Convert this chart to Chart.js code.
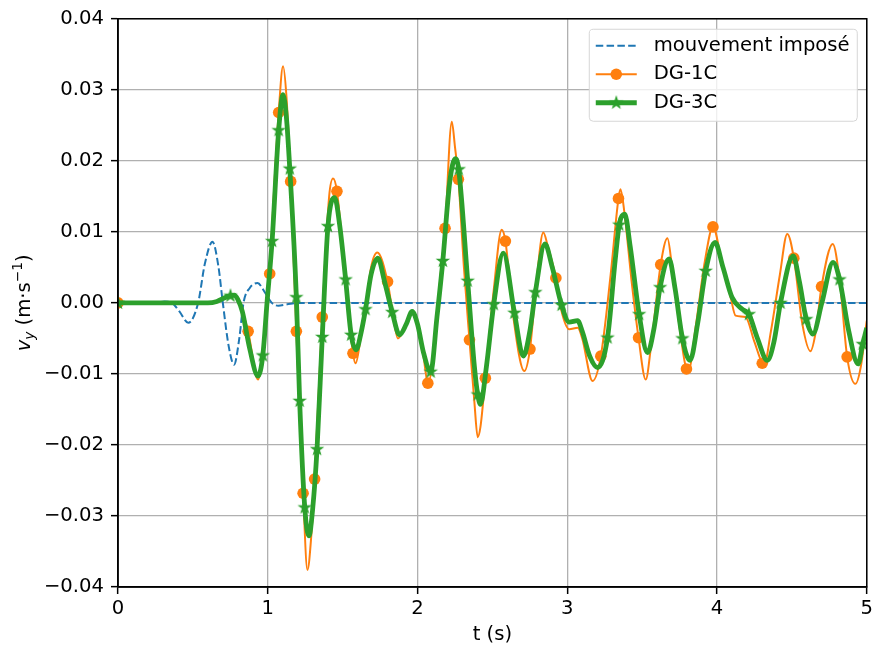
<!DOCTYPE html>
<html>
<head>
<meta charset="utf-8">
<title>v_y</title>
<script src="https://cdn.jsdelivr.net/npm/chart.js@4.4.1/dist/chart.umd.min.js"></script>
<style>
  body { margin: 0; background: #fff; }
  canvas { display: block; }
</style>
</head>
<body>
<canvas id="chart" width="876" height="650"></canvas>
<script>
// t (s) et v_y (m/s)
const imposeT = [0, 0.25, 0.31, 0.36, 0.41, 0.469, 0.535, 0.58, 0.631, 0.67, 0.70, 0.74, 0.775, 0.81, 0.838, 0.88, 0.932, 0.98, 1.027, 1.07, 1.13, 1.2, 5];
const imposeV = [0, 0, 0.0002, 0, -0.0012, -0.0028, 0, 0.0055, 0.0086, 0.0052, 0, -0.0062, -0.0087, -0.005, 0, 0.0021, 0.0028, 0.0015, 0, -0.0004, -0.0002, 0, 0];

const dg1T = [0, 0.6, 0.66, 0.72, 0.77, 0.8, 0.83, 0.869, 0.935, 0.967,
  1.013, 1.04, 1.073, 1.102, 1.125, 1.153, 1.191, 1.236, 1.265, 1.29,
  1.313, 1.364, 1.41, 1.436, 1.462, 1.52, 1.569, 1.587, 1.62, 1.653,
  1.69, 1.731, 1.8, 1.831, 1.869, 1.925, 1.964, 2.0, 2.04, 2.069,
  2.11, 2.15, 2.184, 2.229, 2.25, 2.273, 2.31, 2.347, 2.38, 2.402,
  2.42, 2.453, 2.51, 2.562, 2.587, 2.64, 2.713, 2.751, 2.79, 2.84,
  2.87, 2.924, 2.96, 3.013, 3.07, 3.1, 3.169, 3.224, 3.29, 3.342,
  3.355, 3.38, 3.43, 3.476, 3.524, 3.56, 3.624, 3.669, 3.7, 3.76,
  3.796, 3.81, 3.86, 3.92, 3.973, 4.03, 4.091, 4.124, 4.19, 4.25,
  4.302, 4.315, 4.36, 4.42, 4.469, 4.513, 4.57, 4.624, 4.66, 4.698,
  4.773, 4.82, 4.869, 4.924, 4.96, 5.0];
const dg1V = [0, 0, 0.0002, 0.0008, 0.0011, 0.0005, -0.0012, -0.004, -0.0108, -0.0074,
  0.0041, 0.015, 0.0268, 0.0333, 0.029, 0.0171, -0.004, -0.0268, -0.0376, -0.033,
  -0.0248, -0.002, 0.015, 0.0175, 0.0157, 0.003, -0.0071, -0.0085, -0.005, -0.0009,
  0.005, 0.0071, 0.003, -0.001, -0.005, -0.003, -0.0015, -0.003, -0.0075, -0.0113,
  -0.007, 0.003, 0.0105, 0.0255, 0.022, 0.0174, 0.005, -0.0052, -0.014, -0.0189,
  -0.0175, -0.0106, 0.002, 0.0103, 0.0087, -0.002, -0.0096, -0.0065, 0.002, 0.0099,
  0.008, 0.0035, -0.001, -0.0037, -0.0035, -0.005, -0.011, -0.0075, 0.004, 0.0147,
  0.016, 0.013, 0.003, -0.0049, -0.0108, -0.006, 0.0054, 0.0091, 0.005, -0.005,
  -0.0093, -0.0095, -0.003, 0.006, 0.0107, 0.006, 0.0008, -0.0018, -0.002, -0.0055,
  -0.0085, -0.0087, -0.004, 0.004, 0.0097, 0.0063, -0.003, -0.0068, -0.004, 0.0023,
  0.0083, 0.003, -0.0076, -0.0114, -0.009, -0.0025];
const dg1MarkT = [0, 0.869, 1.013, 1.073, 1.153, 1.191, 1.236, 1.313, 1.364, 1.462,
  1.569, 1.8, 2.069, 2.184, 2.273, 2.347, 2.453, 2.587, 2.751, 2.924,
  3.224, 3.342, 3.476, 3.624, 3.796, 3.973, 4.302, 4.513, 4.698, 4.869];
const dg1MarkV = [0, -0.004, 0.0041, 0.0268, 0.0171, -0.004, -0.0268, -0.0248, -0.002, 0.0157,
  -0.0071, 0.003, -0.0113, 0.0105, 0.0174, -0.0052, -0.0106, 0.0087, -0.0065, 0.0035,
  -0.0075, 0.0147, -0.0049, 0.0054, -0.0093, 0.0107, -0.0085, 0.0063, 0.0023, -0.0076];

const dg3T = [0, 0.6, 0.66, 0.72, 0.751, 0.775, 0.8, 0.83, 0.88, 0.935,
  0.967, 0.995, 1.029, 1.073, 1.102, 1.125, 1.147, 1.191, 1.213, 1.247,
  1.275, 1.3, 1.329, 1.364, 1.402, 1.447, 1.48, 1.52, 1.557, 1.591,
  1.62, 1.653, 1.69, 1.735, 1.78, 1.831, 1.88, 1.925, 1.964, 2.0,
  2.04, 2.088, 2.13, 2.169, 2.215, 2.253, 2.275, 2.335, 2.38, 2.402,
  2.42, 2.46, 2.509, 2.573, 2.647, 2.707, 2.75, 2.787, 2.851, 2.9,
  2.962, 3.013, 3.069, 3.1, 3.15, 3.202, 3.269, 3.32, 3.347, 3.384,
  3.42, 3.48, 3.536, 3.58, 3.62, 3.68, 3.72, 3.769, 3.82, 3.87,
  3.924, 3.987, 4.04, 4.1, 4.169, 4.213, 4.27, 4.336, 4.38, 4.424,
  4.509, 4.55, 4.596, 4.64, 4.7, 4.775, 4.818, 4.88, 4.942, 4.973, 5.0];
const dg3V = [0, 0, 0.0002, 0.0008, 0.001, 0.0011, 0.0005, -0.0012, -0.0065, -0.0103,
  -0.0074, 0, 0.0087, 0.0243, 0.0293, 0.026, 0.0189, 0.0008, -0.0138, -0.0288,
  -0.0328, -0.029, -0.0206, -0.0048, 0.0108, 0.0148, 0.011, 0.0033, -0.0045, -0.0066,
  -0.0045, -0.0009, 0.004, 0.0063, 0.003, -0.0013, -0.0045, -0.003, -0.0012, -0.003,
  -0.007, -0.0097, -0.002, 0.0059, 0.017, 0.0203, 0.0188, 0.0031, -0.009, -0.0129,
  -0.0143, -0.009, -0.0002, 0.007, -0.0014, -0.0075, -0.004, 0.0015, 0.0083, 0.005,
  -0.0003, -0.0027, -0.0025, -0.004, -0.0075, -0.0091, -0.0049, 0.006, 0.011, 0.0125,
  0.008, -0.0016, -0.007, -0.0035, 0.0022, 0.0062, 0.002, -0.005, -0.0081, -0.003,
  0.0045, 0.0085, 0.005, 0.0008, -0.0009, -0.0016, -0.005, -0.0081, -0.0055, 0,
  0.0066, 0.003, -0.0023, -0.0044, 0, 0.0057, 0.0033, -0.004, -0.0086, -0.0058, -0.0035];
const dg3MarkT = [0, 0.751, 0.967, 1.029, 1.073, 1.147, 1.191, 1.213, 1.247, 1.329, 1.364,
  1.402, 1.52, 1.557, 1.653, 1.831, 2.088, 2.169, 2.275, 2.335, 2.402,
  2.509, 2.647, 2.787, 2.962, 3.269, 3.347, 3.48, 3.62, 3.769, 3.924,
  4.213, 4.424, 4.596, 4.818, 4.973];
const dg3MarkV = [0, 0.001, -0.0074, 0.0087, 0.0243, 0.0189, 0.0008, -0.0138, -0.0288, -0.0206, -0.0048,
  0.0108, 0.0033, -0.0045, -0.0009, -0.0013, -0.0097, 0.0059, 0.0188, 0.0031, -0.0129,
  -0.0002, -0.0014, 0.0015, -0.0003, -0.0049, 0.011, -0.0016, 0.0022, -0.005, 0.0045,
  -0.0016, 0, -0.0023, 0.0033, -0.0058];

const xTicks = [0, 1, 2, 3, 4, 5];
const yTicks = [-0.04, -0.03, -0.02, -0.01, 0, 0.01, 0.02, 0.03, 0.04];
const labels = ['mouvement imposé', 'DG-1C', 'DG-3C'];

const BLUE = '#1f77b4', ORANGE = '#ff7f0e', GREEN = '#2ca02c';
const FONT = '"DejaVu Sans", sans-serif';
const FS = 19.6;

const pts = (ts, vs) => ts.map((t, i) => ({ x: t, y: vs[i] }));

function makeStar(r, color) {
  const size = Math.ceil(2 * r + 4);
  const c = document.createElement('canvas');
  c.width = size; c.height = size;
  const g = c.getContext('2d');
  g.translate(size / 2, size / 2);
  g.beginPath();
  for (let i = 0; i < 10; i++) {
    const rr = i % 2 ? r * 0.40 : r;
    const a = -Math.PI / 2 + i * Math.PI / 5;
    g.lineTo(rr * Math.cos(a), rr * Math.sin(a));
  }
  g.closePath();
  g.fillStyle = color; g.fill();
  g.lineWidth = 1.2; g.strokeStyle = color; g.stroke();
  return c;
}
const starImg = makeStar(5.8, GREEN);

// cadre complet (haut + droite)
const spines = {
  id: 'spines',
  afterDatasetsDraw(chart) {
    const { ctx, chartArea: a } = chart;
    ctx.save();
    ctx.strokeStyle = '#000';
    ctx.lineWidth = 1.5;
    ctx.strokeRect(a.left, a.top, a.right - a.left, a.bottom - a.top);
    ctx.restore();
  }
};

// titre de l'axe y avec indice / exposant
const yTitle = {
  id: 'yTitle',
  afterDraw(chart) {
    const ctx = chart.ctx;
    const a = chart.chartArea;
    const small = (FS * 0.7).toFixed(1) + 'px ';
    const parts = [
      { t: 'v', f: 'italic ' + FS + 'px ' + FONT, dy: 0 },
      { t: 'y', f: 'italic ' + small + FONT, dy: 4 },
      { t: ' (m\u00b7s', f: FS + 'px ' + FONT, dy: 0 },
      { t: '\u22121', f: small + FONT, dy: -8 },
      { t: ')', f: FS + 'px ' + FONT, dy: 0 }
    ];
    ctx.save();
    let w = 0;
    parts.forEach(p => { ctx.font = p.f; p.w = ctx.measureText(p.t).width; w += p.w; });
    ctx.translate(30, (a.top + a.bottom) / 2);
    ctx.rotate(-Math.PI / 2);
    ctx.fillStyle = '#000';
    ctx.textBaseline = 'alphabetic';
    let x = -w / 2;
    parts.forEach(p => { ctx.font = p.f; ctx.fillText(p.t, x, p.dy); x += p.w; });
    ctx.restore();
  }
};

// légende façon matplotlib, dans la zone du graphe
const legendBox = {
  id: 'legendBox',
  afterDraw(chart) {
    const ctx = chart.ctx;
    const a = chart.chartArea;
    const x0 = a.right - 278, y0 = a.top + 10, w = 268, h = 92;
    ctx.save();
    ctx.beginPath();
    ctx.roundRect(x0 + 0.5, y0 + 0.5, w, h, 4);
    ctx.fillStyle = 'rgba(255,255,255,0.8)';
    ctx.fill();
    ctx.strokeStyle = '#d6d6d6';
    ctx.lineWidth = 1;
    ctx.stroke();
    const rows = [
      { color: BLUE, width: 2, dash: [7.5, 3.3], marker: null },
      { color: ORANGE, width: 2, dash: [], marker: 'circle' },
      { color: GREEN, width: 4.8, dash: [], marker: 'star' }
    ];
    rows.forEach((r, i) => {
      const y = y0 + 17 + i * 28.5;
      const hx = x0 + 7;
      ctx.beginPath();
      ctx.setLineDash(r.dash);
      ctx.strokeStyle = r.color;
      ctx.lineWidth = r.width;
      ctx.moveTo(hx, y);
      ctx.lineTo(hx + 41, y);
      ctx.stroke();
      ctx.setLineDash([]);
      if (r.marker === 'circle') {
        ctx.beginPath();
        ctx.arc(hx + 20.5, y, 5.8, 0, Math.PI * 2);
        ctx.fillStyle = r.color;
        ctx.fill();
      } else if (r.marker === 'star') {
        ctx.drawImage(starImg, hx + 20.5 - starImg.width / 2, y - starImg.height / 2);
      }
      ctx.fillStyle = '#000';
      ctx.font = FS + 'px ' + FONT;
      ctx.textBaseline = 'middle';
      ctx.fillText(labels[i], x0 + 65, y);
    });
    ctx.restore();
  }
};

const fmtY = v => {
  const n = Math.round(v * 100);
  return (n < 0 ? '\u2212' : '') + (Math.abs(n) / 100).toFixed(2);
};

new Chart(document.getElementById('chart').getContext('2d'), {
  type: 'line',
  data: {
    datasets: [
      { label: labels[2] + ' marqueurs', data: pts(dg3MarkT, dg3MarkV), showLine: false,
        pointStyle: starImg, pointRadius: 5, order: 1, clip: 0 },
      { label: labels[2], data: pts(dg3T, dg3V), borderColor: GREEN, borderWidth: 4.8,
        pointRadius: 0, cubicInterpolationMode: 'monotone', order: 2, clip: 0 },
      { label: labels[1] + ' marqueurs', data: pts(dg1MarkT, dg1MarkV), showLine: false,
        pointStyle: 'circle', pointRadius: 5.8, backgroundColor: ORANGE, borderColor: ORANGE,
        borderWidth: 0, order: 3, clip: 0 },
      { label: labels[1], data: pts(dg1T, dg1V), borderColor: ORANGE, borderWidth: 2,
        pointRadius: 0, cubicInterpolationMode: 'monotone', order: 4, clip: 0 },
      { label: labels[0], data: pts(imposeT, imposeV), borderColor: BLUE, borderWidth: 2,
        borderDash: [7.5, 3.3], pointRadius: 0, cubicInterpolationMode: 'monotone', order: 5, clip: 0 }
    ]
  },
  options: {
    responsive: false,
    animation: false,
    devicePixelRatio: 1,
    events: [],
    layout: { padding: { left: 0, right: 8, top: 18, bottom: 0 } },
    plugins: {
      legend: { display: false },
      tooltip: { enabled: false }
    },
    scales: {
      x: {
        type: 'linear', min: 0, max: 5,
        afterBuildTicks: axis => { axis.ticks = xTicks.map(v => ({ value: v })); },
        afterFit: s => { s.height = 63; },
        ticks: { color: '#000', padding: 3, font: { family: FONT, size: FS }, callback: v => String(v) },
        grid: { color: '#b0b0b0', lineWidth: 1.3, tickLength: 7, tickColor: '#000', tickWidth: 1.5 },
        border: { display: true, color: '#000', width: 1.5 },
        title: { display: true, text: 't (s)', color: '#000', font: { family: FONT, size: FS },
          padding: { top: 0, bottom: 3 } }
      },
      y: {
        type: 'linear', min: -0.04, max: 0.04,
        afterBuildTicks: axis => { axis.ticks = yTicks.map(v => ({ value: v })); },
        afterFit: s => { s.width = 118; },
        ticks: { color: '#000', padding: 7, font: { family: FONT, size: FS }, callback: fmtY },
        grid: { color: '#b0b0b0', lineWidth: 1.3, tickLength: 7, tickColor: '#000', tickWidth: 1.5 },
        border: { display: true, color: '#000', width: 1.5 }
      }
    }
  },
  plugins: [spines, yTitle, legendBox]
});
</script>
</body>
</html>
